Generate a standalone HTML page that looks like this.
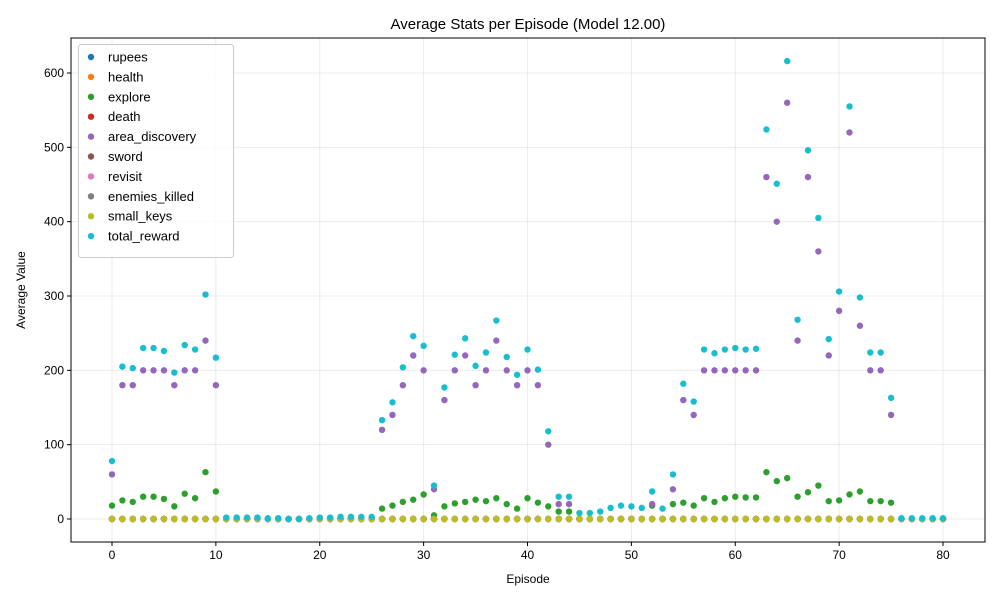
<!DOCTYPE html>
<html><head><meta charset="utf-8"><style>body{margin:0;background:#fff}svg{display:block;font-family:"Liberation Sans",sans-serif}</style></head>
<body>
<svg id="chart" width="1000" height="600" xmlns="http://www.w3.org/2000/svg"></svg>
<script>
const seriesNames=["rupees","health","explore","death","area_discovery","sword","revisit","enemies_killed","small_keys","total_reward"];
const colors=["#1f77b4","#ff7f0e","#2ca02c","#d62728","#9467bd","#8c564b","#e377c2","#7f7f7f","#bcbd22","#17becf"];
const xTicks=[0,10,20,30,40,50,60,70,80];
const yTicks=[0,100,200,300,400,500,600];
const zeros=new Array(81).fill(0);
const explore=[18,25,23,30,30,27,17,34,28,63,37,0,0,0,0,0,0,0,0,0,0,0,0,0,0,0,14,18,23,26,33,5,17,21,23,26,24,28,20,14,28,22,17,10,10,0,0,0,0,0,0,0,18,0,20,22,18,28,23,28,30,29,29,63,51,55,30,36,45,24,25,33,37,24,24,22,0,0,0,0,0];
const areaDiscovery=[60,180,180,200,200,200,180,200,200,240,180,0,0,0,0,0,0,0,0,0,0,0,0,0,0,0,120,140,180,220,200,40,160,200,220,180,200,240,200,180,200,180,100,20,20,0,0,0,0,0,0,0,20,0,40,160,140,200,200,200,200,200,200,460,400,560,240,460,360,220,280,520,260,200,200,140,0,0,0,0,0];
const totalReward=[78,205,203,230,230,226,197,234,228,302,217,2,2,2,2,1,1,0,0,1,2,2,3,3,3,3,133,157,204,246,233,45,177,221,243,206,224,267,218,194,228,201,118,30,30,8,8,10,15,18,17,15,37,14,60,182,158,228,223,228,230,228,229,524,451,616,268,496,405,242,306,555,298,224,224,163,1,1,1,1,1];
const seriesData=[zeros,zeros,explore,zeros,areaDiscovery,zeros,zeros,zeros,zeros,totalReward];
const L=71,R=985,T=38,B=542;
const xs=v=>112+v*(943-112)/80;
const ys=v=>519-v*(519-73)/600;
const svg=document.getElementById('chart');
const NS="http://www.w3.org/2000/svg";
function mk(tag,attrs,parent){const e=document.createElementNS(NS,tag);for(const k in attrs)e.setAttribute(k,attrs[k]);(parent||svg).appendChild(e);return e;}
// grid
xTicks.forEach(t=>{const g=mk('line',{x1:xs(t),x2:xs(t),y1:T,y2:B,stroke:'#b0b0b0','stroke-opacity':0.3,'stroke-width':0.8});

});
yTicks.forEach(t=>{const g=mk('line',{x1:L,x2:R,y1:ys(t),y2:ys(t),stroke:'#b0b0b0','stroke-opacity':0.3,'stroke-width':0.8});

});
// points
seriesData.forEach((arr,si)=>{arr.forEach((v,i)=>{const c=mk('circle',{cx:xs(i),cy:ys(v),r:3.2,fill:colors[si]});

});});
// frame
const fr=mk('rect',{x:L,y:T,width:R-L,height:B-T,fill:'none',stroke:'#000','stroke-width':1});


xTicks.forEach(t=>{mk('line',{x1:xs(t),x2:xs(t),y1:B,y2:B+4,stroke:'#000'});
const tx=mk('text',{x:xs(t),y:B+17,'text-anchor':'middle','font-size':12});tx.textContent=t;

});
yTicks.forEach(t=>{mk('line',{x1:L-4,x2:L,y1:ys(t),y2:ys(t),stroke:'#000'});
const tx=mk('text',{x:L-7,y:ys(t)+4,'text-anchor':'end','font-size':12});tx.textContent=t;

});
const title=mk('text',{x:528,y:29,'text-anchor':'middle','font-size':15});title.textContent="Average Stats per Episode (Model 12.00)";


const xl=mk('text',{x:528,y:583,'text-anchor':'middle','font-size':12});xl.textContent="Episode";


const yl=mk('text',{x:25,y:290,'text-anchor':'middle','font-size':12,transform:'rotate(-90 25 290)'});yl.textContent="Average Value";


// legend
const lg=mk('rect',{x:78.5,y:44.5,width:155,height:213,rx:3,fill:'#fff','fill-opacity':0.8,stroke:'#ccc'});


seriesNames.forEach((n,i)=>{const y=57+i*19.9;
const c=mk('circle',{cx:91,cy:y,r:3.2,fill:colors[i]});


const t=mk('text',{x:108,y:y+4.5,'font-size':13});t.textContent=n;

});
</script>
</body></html>
